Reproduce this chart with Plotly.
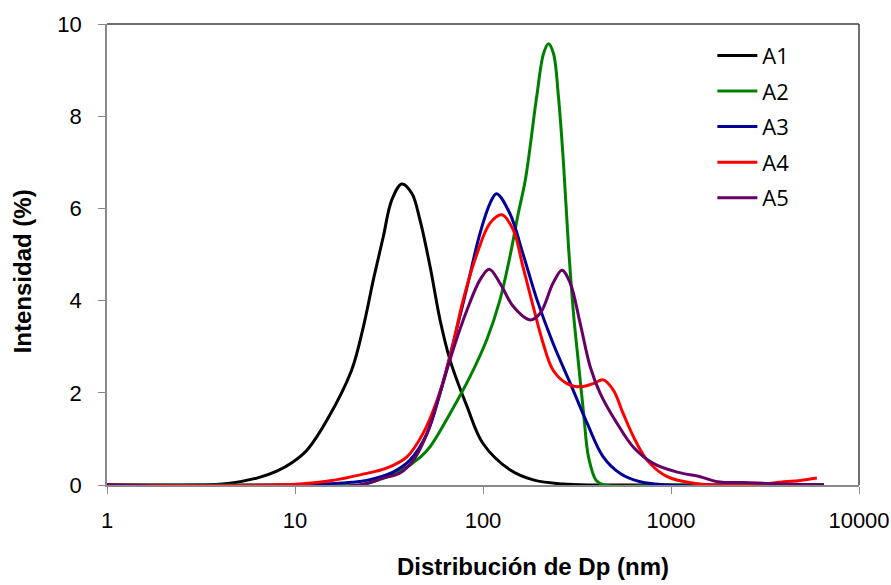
import plotly.graph_objects as go

# ---- data ----
a1_x = [1, 3, 4.13, 6.27, 8.0, 9.75, 11.6, 14.8, 20.0, 23.1, 26.1, 29.5, 32.7, 37.0, 41.8, 46.2, 52.3, 59.1, 66.8, 82.3, 100, 139, 185, 267, 400, 1000, 6500]
a1_y = [0, 0, 0.02, 0.15, 0.3, 0.5, 0.76, 1.41, 2.49, 3.43, 4.45, 5.39, 6.18, 6.53, 6.33, 5.75, 4.74, 3.58, 2.71, 1.7, 0.9, 0.33, 0.11, 0.02, 0, 0, 0]

a2_x = [1, 10, 22, 27.3, 36.2, 46.3, 52.3, 66.8, 85.3, 104.7, 123, 139, 154, 168, 193, 210, 223, 237, 252, 268, 285, 303, 322, 343, 364, 400, 440, 1000, 6500]
a2_y = [0, 0, 0, 0.1, 0.3, 0.6, 0.83, 1.55, 2.35, 3.15, 4.01, 4.95, 5.89, 6.62, 8.42, 9.36, 9.57, 9.36, 8.42, 6.98, 5.17, 3.72, 2.64, 1.55, 0.61, 0.1, 0, 0, 0]

a3_x = [1, 10, 14, 20, 24.1, 33.2, 40.9, 50.4, 59.1, 69.3, 82.3, 96.4, 109, 118, 139, 163, 194, 236, 291, 358, 436, 537, 686, 955, 6500]
a3_y = [0, 0, 0.02, 0.06, 0.1, 0.28, 0.54, 1.12, 1.99, 3.07, 4.3, 5.46, 6.11, 6.32, 5.89, 5.02, 4.01, 3.07, 2.21, 1.34, 0.61, 0.25, 0.07, 0, 0]

a4_x = [1, 10.6, 15.9, 22.2, 30.9, 39.4, 48, 57, 66.8, 78.4, 93, 109, 126, 145, 163, 185, 209, 236, 280, 329, 386, 436, 493, 557, 631, 746, 955, 1321, 2630, 3980, 4870, 5970]
a4_y = [0, 0.02, 0.1, 0.22, 0.37, 0.61, 1.12, 1.84, 2.78, 4.01, 5.02, 5.68, 5.86, 5.53, 4.74, 3.87, 3.07, 2.49, 2.2, 2.13, 2.2, 2.28, 2.06, 1.55, 1.05, 0.54, 0.18, 0.04, 0.0, 0.07, 0.1, 0.15]

a5_x = [1, 22, 29.5, 36.2, 42.7, 50.4, 59, 69.3, 82.3, 96.4, 108, 123, 145, 178, 201, 236, 263, 291, 329, 372, 420, 516, 631, 805, 1079, 1429, 1762, 2630, 3980, 6460]
a5_y = [0, 0, 0.15, 0.26, 0.54, 1.12, 1.99, 2.93, 3.8, 4.45, 4.68, 4.38, 3.87, 3.58, 3.72, 4.38, 4.66, 4.38, 3.5, 2.56, 1.99, 1.34, 0.82, 0.47, 0.28, 0.18, 0.07, 0.05, 0.02, 0]

names = ["A1", "A2", "A3", "A4", "A5"]
colors = ["#000000", "#008000", "#000099", "#FF0000", "#660066"]
series = [(a1_x, a1_y), (a2_x, a2_y), (a3_x, a3_y), (a4_x, a4_y), (a5_x, a5_y)]

x_tickvals = [1, 10, 100, 1000, 10000]
x_ticktext = ["1", "10", "100", "1000", "10000"]

tick_font = "Liberation Sans, Arial, sans-serif"

fig = go.Figure()
for (xs, ys), n, c in zip(series, names, colors):
    fig.add_trace(go.Scatter(x=xs, y=ys, name=n, mode="lines",
                             line=dict(color=c, width=3, shape="spline", smoothing=1.0),
                             legendgroup=n))

fig.update_layout(
    width=891, height=585,
    margin=dict(l=107, r=32, t=24, b=100),
    paper_bgcolor="white", plot_bgcolor="white",
    showlegend=True,
    legend=dict(x=0.805, y=0.977, xanchor="left", yanchor="top",
                font=dict(family="Open Sans, Noto Sans, sans-serif", size=22, color="black"),
                bgcolor="rgba(0,0,0,0)", tracegroupgap=4, itemwidth=40),
    xaxis=dict(type="log", range=[0, 4], automargin=False,
               tickvals=x_tickvals, ticktext=x_ticktext,
               showgrid=False, zeroline=False,
               showline=True, linecolor="#898989", linewidth=1.5,
               ticks="outside", ticklen=7, tickcolor="#898989",
               ticklabelstandoff=8,
               tickfont=dict(family=tick_font, size=22, color="black")),
    yaxis=dict(range=[0, 10], dtick=2, automargin=False,
               showgrid=False, zeroline=False,
               showline=True, linecolor="#898989", linewidth=1.5,
               ticks="outside", ticklen=7, tickcolor="#898989",
               ticklabelstandoff=12,
               tickfont=dict(family=tick_font, size=22, color="black")),
    annotations=[
        dict(text="<b>Distribución de Dp (nm)</b>", xref="paper", yref="paper",
             x=0.5665, y=-0.176, xanchor="center", yanchor="middle", showarrow=False,
             font=dict(family=tick_font, size=24, color="black")),
        dict(text="<b>Intensidad (%)</b>", xref="paper", yref="paper",
             x=-0.112, y=0.463, xanchor="center", yanchor="middle", showarrow=False,
             textangle=-90, font=dict(family=tick_font, size=24, color="black")),
    ],
)

# top and right frame lines of the plot box
fig.add_shape(type="line", xref="paper", yref="paper", x0=0, x1=1, y0=1, y1=1,
              line=dict(color="#404040", width=1.5))
fig.add_shape(type="line", xref="paper", yref="paper", x0=1, x1=1, y0=0, y1=1,
              line=dict(color="#404040", width=1.5))

fig.write_html("out.html")
